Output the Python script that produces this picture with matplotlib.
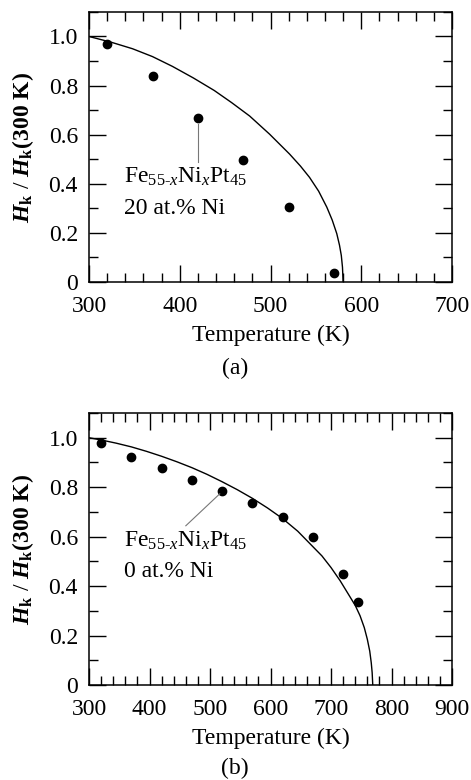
import matplotlib
matplotlib.use("Agg")
import matplotlib.pyplot as plt
from matplotlib.ticker import MultipleLocator

plt.rcParams['font.family'] = ['Liberation Serif', 'DejaVu Serif']
plt.rcParams['mathtext.fontset'] = 'custom'
plt.rcParams['mathtext.rm'] = 'Liberation Serif'
plt.rcParams['mathtext.it'] = 'Liberation Serif:italic'
plt.rcParams['mathtext.bf'] = 'Liberation Serif:bold'
plt.rcParams['mathtext.bfit'] = 'Liberation Serif:italic:bold'
plt.rcParams['font.size'] = 17

# panel (a): 20 at.% Ni
temp_a = [320, 370, 420, 470, 520, 570]
hk_a = [0.969, 0.837, 0.668, 0.495, 0.306, 0.036]
fit_t_a = [300, 325, 348, 370, 392, 415, 438, 457, 477, 499, 521, 533, 543, 553, 562,
           568, 573, 576, 578, 579.3, 580]
fit_h_a = [1.000, 0.976, 0.950, 0.918, 0.878, 0.831, 0.780, 0.731, 0.676, 0.602, 0.521,
           0.472, 0.426, 0.370, 0.305, 0.252, 0.197, 0.150, 0.108, 0.060, 0.0]

# panel (b): 0 at.% Ni
temp_b = [320, 370, 420, 470, 520, 570, 620, 670, 720, 745]
hk_b = [0.980, 0.922, 0.878, 0.831, 0.784, 0.736, 0.680, 0.597, 0.449, 0.336]
fit_t_b = [300, 320, 345, 370, 395, 420, 445, 470, 495, 520, 545, 570, 595, 620, 645,
           665, 685, 700, 715, 730, 740, 748, 755, 760, 764, 766.5, 768, 769]
fit_h_b = [1.000, 0.991, 0.978, 0.963, 0.945, 0.925, 0.903, 0.879, 0.852, 0.822, 0.790,
           0.755, 0.716, 0.673, 0.622, 0.572, 0.522, 0.475, 0.422, 0.362, 0.322, 0.280,
           0.232, 0.185, 0.137, 0.090, 0.050, 0.0]

comp = r'Fe$_{\text{55-}\mathit{x}}$Ni$_{\mathit{x}}$Pt$_{45}$'
ylab = r'$\mathbfit{H}_\mathbf{k}\ /\ \mathbfit{H}_\mathbf{k}$(300 K)'

fig = plt.figure(figsize=(4.71, 7.80), dpi=100)
ax_a = fig.add_axes([0.189, 0.6385, 0.7707, 0.3462])
ax_b = fig.add_axes([0.189, 0.1218, 0.7707, 0.3487])


def style(ax, xmax):
    ax.set_xlim(300, xmax)
    ax.set_ylim(0, 1.1)
    ax.xaxis.set_major_locator(MultipleLocator(100))
    ax.xaxis.set_minor_locator(MultipleLocator(20))
    ax.yaxis.set_minor_locator(MultipleLocator(0.1))
    ax.set_yticks([0, 0.2, 0.4, 0.6, 0.8, 1.0])
    ax.set_yticklabels(['0', '0.2', '0.4', '0.6', '0.8', '1.0'])
    ax.tick_params(which='both', direction='in', top=True, right=True, width=1)
    ax.tick_params(which='major', length=12)
    ax.tick_params(axis='x', which='major', pad=10)
    ax.tick_params(axis='y', which='major', pad=8)
    ax.tick_params(which='minor', length=6.5)
    for s in ax.spines.values():
        s.set_linewidth(1.1)
    ax.set_xlabel('Temperature (K)', labelpad=6)
    ax.set_ylabel(ylab, fontweight='bold', labelpad=9)


# (a)
ax_a.plot(fit_t_a, fit_h_a, color='black', lw=1.0)
ax_a.plot(temp_a, hk_a, 'o', color='black', ms=6)
ax_a.plot([420, 420], [0.642, 0.488], color='#777777', lw=0.8)
ax_a.text(338.6, 0.406, comp, va='baseline')
ax_a.text(338.6, 0.278, '20 at.% Ni', va='baseline')
style(ax_a, 700)

# (b)
ax_b.plot(fit_t_b, fit_h_b, color='black', lw=1.0)
ax_b.plot(temp_b, hk_b, 'o', color='black', ms=6)
ax_b.plot([460, 516], [0.644, 0.773], color='#777777', lw=0.8)
ax_b.text(358, 0.56, comp, va='baseline')
ax_b.text(358, 0.438, '0 at.% Ni', va='baseline')
style(ax_b, 900)

fig.text(235 / 471, 1 - 368 / 780, '(a)', ha='center', va='center')
fig.text(235 / 471, 1 - 768 / 780, '(b)', ha='center', va='center')

fig.savefig('out.png', dpi=100)
